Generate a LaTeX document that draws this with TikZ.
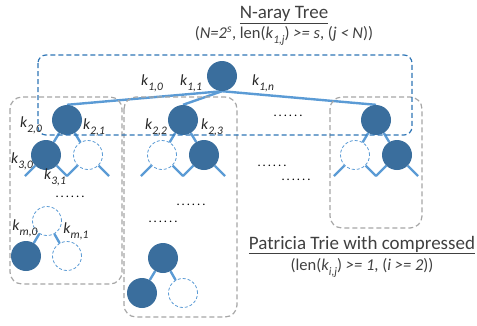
\documentclass[tikz,border=0pt]{standalone}
\usepackage{fontspec}
\setmainfont{Carlito}
\usepackage{xcolor}
\usepackage{tikz}
\usetikzlibrary{backgrounds}

\definecolor{nodeblue}{HTML}{3A6E9D}
\definecolor{edgeblue}{HTML}{5B9BD5}
\definecolor{boxblue}{HTML}{2E75B6}
\definecolor{boxgray}{HTML}{A6A6A6}
\definecolor{txtgray}{HTML}{404040}

\newcommand{\kij}[1]{\textit{k}\raisebox{-0.33em}{\fontsize{11.5}{11.5}\selectfont\textit{#1}}}

\begin{document}
\begin{tikzpicture}[x=1pt, y=-1pt,
    % Styles
    full/.style={circle, fill=nodeblue, inner sep=0pt, minimum size=30pt},
    empty/.style={circle, draw=edgeblue, dash pattern=on 3pt off 2pt, fill=white, inner sep=0pt,
                  minimum size=29pt, line width=0.8pt},
    edge/.style={draw=edgeblue, line width=2.4pt},
    keylbl/.style={font=\fontsize{15.5}{15.5}\selectfont, text=black!85, inner sep=0pt},
    dots/.style={font=\fontsize{12.5}{12.5}\selectfont\addfontfeature{LetterSpace=16}, inner sep=0pt},
    graybox/.style={draw=boxgray, dash pattern=on 5pt off 3pt, line width=1.2pt, rounded corners=12pt},
    bluebox/.style={draw=boxblue, dash pattern=on 5pt off 3pt, line width=1.2pt, rounded corners=8pt},
    title/.style={font=\fontsize{19}{19}\selectfont, text=txtgray, inner sep=0pt},
    subtitle/.style={font=\fontsize{16.5}{16.5}\selectfont, text=txtgray, inner sep=0pt}
  ]
    \useasboundingbox (0,0) rectangle (477,325);

    % === Titles ===
    \node[title] (ntitle) at (284,15) {\underline{N-aray Tree}};
    \node[subtitle] (nsub) at (284,36) {(\textit{N=2}\textsuperscript{\textit{s}}, len(\kij{1,j}) \textit{>= s}, (\textit{j < N}))};
    \node[title] (ptitle) at (362,245) {\underline{Patricia Trie with compressed}};
    \node[subtitle] (psub) at (362,268) {(len(\kij{i,j}) \textit{>= 1}, (\textit{i >= 2}))};

    % === Boxes ===
    \draw[graybox] (10,97) rectangle (122,284);
    \draw[graybox] (124,97) rectangle (237,317);
    \draw[graybox] (330,97) rectangle (422,228);

    % === Nodes ===
    \node[full] (root) at (222,76) {};

    \node[full] (a) at (67,120) {};
    \node[full] (b) at (183,120) {};
    \node[full] (c) at (376,120) {};

    \node[full]  (a0) at (46,155) {};
    \node[empty] (a1) at (88,155) {};
    \node[empty] (b0) at (162,155) {};
    \node[full]  (b1) at (204,155) {};
    \node[empty] (c0) at (355,155) {};
    \node[full]  (c1) at (397,155) {};

    \node[empty] (m)  at (47,221) {};
    \node[full]  (m0) at (26,256) {};
    \node[empty] (m1) at (67,256) {};

    \node[full]  (p)  at (163,258) {};
    \node[full]  (p0) at (142,293) {};
    \node[empty] (p1) at (183,293) {};

    % === Edges ===
    \begin{scope}[on background layer]
      \draw[edge] (root.south) -- (a.north);
      \draw[edge] (root.south) -- (b.north);
      \draw[edge] (root.south) -- (c.north);
      \foreach \u/\v in {a/a0, a/a1, b/b0, b/b1, c/c0, c/c1, m/m0, m/m1, p/p0, p/p1}
        \draw[edge] (\u) -- (\v);
      % open branches below level 2
      \foreach \u in {a0, a1, b0, b1, c0, c1} {
        \coordinate (\u-l) at ([shift={(-21,21)}]\u.center);
        \coordinate (\u-r) at ([shift={(21,21)}]\u.center);
        \draw[edge] (\u-l) -- (\u) -- (\u-r);
      }
    \end{scope}

    \draw[bluebox] (38,55) rectangle (412,135);

    % === Key labels ===
    \node[keylbl] (k10) at (152,83) {\kij{1,0}};
    \node[keylbl] (k11) at (191,83) {\kij{1,1}};
    \node[keylbl] (k1n) at (263,83) {\kij{1,n}};
    \node[keylbl] (k20) at (31,125) {\kij{2,0}};
    \node[keylbl] (k21) at (94,127) {\kij{2,1}};
    \node[keylbl] (k22) at (156,127) {\kij{2,2}};
    \node[keylbl] (k23) at (212,127) {\kij{2,3}};
    \node[keylbl] (k30) at (22,161) {\kij{3,0}};
    \node[keylbl] (k31) at (55,177) {\kij{3,1}};
    \node[keylbl] (km0) at (25,228) {\kij{m,0}};
    \node[keylbl] (km1) at (76,231) {\kij{m,1}};

    % === Dots ===
    \node[dots] (d1) at (288,116) {......};
    \node[dots] (d2) at (70,197) {......};
    \node[dots] (d3) at (191,205) {......};
    \node[dots] (d4) at (163,222) {......};
    \node[dots] (d5) at (272,166) {......};
    \node[dots] (d6) at (296,180) {......};

  \end{tikzpicture}
\end{document}
